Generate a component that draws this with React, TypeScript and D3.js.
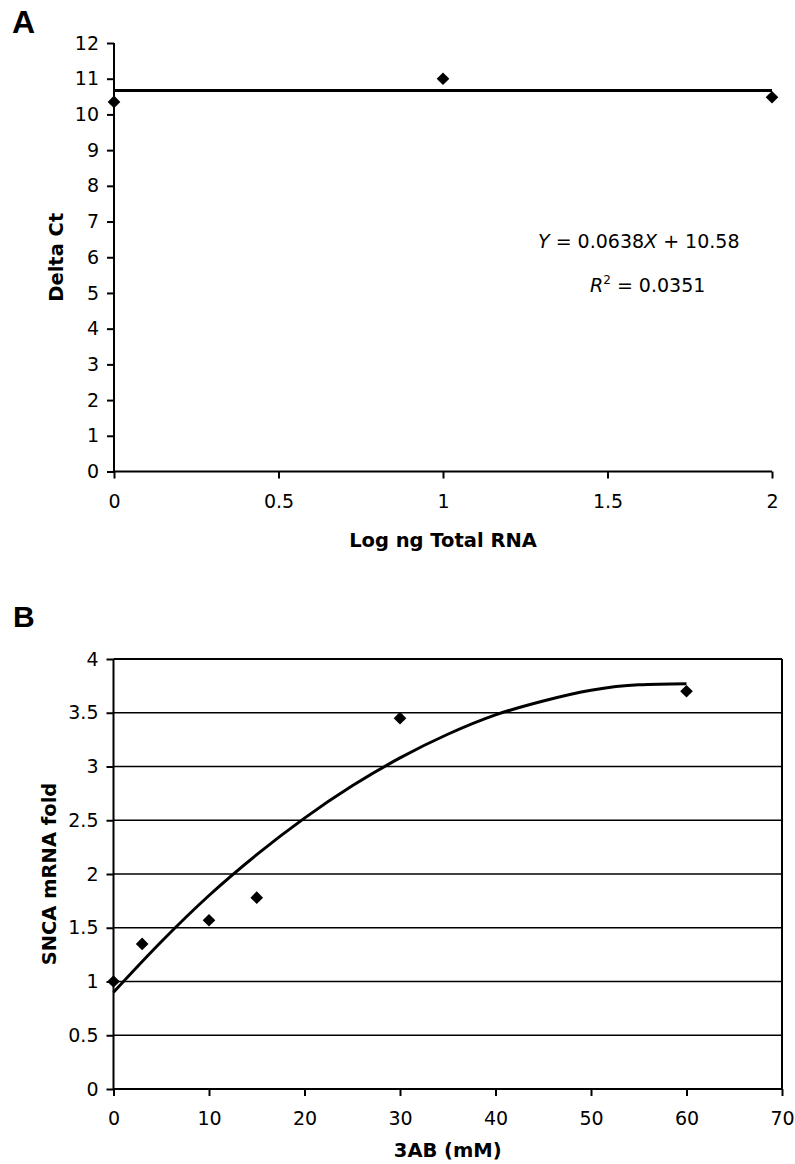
import React, { useRef, useEffect } from 'react';
import * as d3 from 'd3';

// Panel A: standard curve
const rnaLog = [0, 1, 2];
const deltaCt = [10.35, 11.0, 10.48];
const trendA = [[0, 10.67], [2, 10.67]];
const xTicksA = [0, 0.5, 1, 1.5, 2];
const yTicksA = d3.range(0, 13);

// Panel B: 3AB dose response
const doseMM = [0, 3, 10, 15, 30, 60];
const sncaFold = [1.0, 1.35, 1.57, 1.78, 3.45, 3.7];
const trendBx = [0, 5, 10, 15, 20, 25, 30, 35, 40, 45, 50, 55, 60];
const trendBy = [0.9, 1.37, 1.8, 2.18, 2.52, 2.82, 3.08, 3.3, 3.48, 3.61, 3.71, 3.76, 3.77];
const xTicksB = [0, 10, 20, 30, 40, 50, 60, 70];
const yTicksB = [0, 0.5, 1, 1.5, 2, 2.5, 3, 3.5, 4];

const W = 795;
const H = 1164;
const FONT = '"DejaVu Sans", Verdana, sans-serif';

const App = () => {
  const svgRef = useRef<SVGSVGElement>(null);

  useEffect(() => {
    document.body.style.margin = '0';
    const svg = d3.select(svgRef.current);
    svg.selectAll('*').remove();

    const diamond = d3.symbol().type(d3.symbolSquare).size(80);

    const styleAxis = (g) => {
      g.select('.domain').remove();
      g.selectAll('.tick line').attr('stroke', '#000').attr('stroke-width', 2);
      g.selectAll('.tick text').attr('fill', '#000').style('font-family', FONT).style('font-size', '19px');
    };

    // ---------- Panel A ----------
    const xA = d3.scaleLinear().domain([0, 2]).range([114, 772]);
    const yA = d3.scaleLinear().domain([0, 12]).range([471.5, 43]);
    const a = svg.append('g');

    a.append('g')
      .attr('transform', `translate(${xA(0)},0)`)
      .call(d3.axisLeft(yA).tickValues(yTicksA).tickSize(7).tickPadding(8).tickFormat(d3.format('d')))
      .call(styleAxis);
    a.append('g')
      .attr('transform', `translate(0,${yA(0)})`)
      .call(d3.axisBottom(xA).tickValues(xTicksA).tickSize(7).tickPadding(16).tickFormat(d => String(d)))
      .call(styleAxis);

    a.append('line').attr('x1', xA(0)).attr('x2', xA(0)).attr('y1', yA(12)).attr('y2', yA(0))
      .attr('stroke', '#000').attr('stroke-width', 2);
    a.append('line').attr('x1', xA(0)).attr('x2', xA(2)).attr('y1', yA(0)).attr('y2', yA(0))
      .attr('stroke', '#000').attr('stroke-width', 2);

    a.append('path')
      .attr('d', d3.line().x(d => xA(d[0])).y(d => yA(d[1]))(trendA))
      .attr('fill', 'none').attr('stroke', '#000').attr('stroke-width', 3);

    a.selectAll('.pt').data(rnaLog).enter().append('path')
      .attr('d', diamond)
      .attr('transform', (d, i) => `translate(${xA(d)},${yA(deltaCt[i])}) rotate(45)`)
      .attr('fill', '#000');

    const eq1 = a.append('text').attr('x', 538).attr('y', 248)
      .style('font-family', FONT).style('font-size', '19px');
    eq1.append('tspan').style('font-style', 'italic').text('Y');
    eq1.append('tspan').text(' = 0.0638');
    eq1.append('tspan').style('font-style', 'italic').text('X');
    eq1.append('tspan').text(' + 10.58');

    const eq2 = a.append('text').attr('x', 590).attr('y', 292)
      .style('font-family', FONT).style('font-size', '19px');
    eq2.append('tspan').style('font-style', 'italic').text('R');
    eq2.append('tspan').attr('dy', -8).style('font-size', '12px').text('2');
    eq2.append('tspan').attr('dy', 8).text(' = 0.0351');

    a.append('text').attr('transform', `translate(63,${(yA(0) + yA(12)) / 2}) rotate(-90)`)
      .attr('text-anchor', 'middle').style('font-family', FONT).style('font-size', '19.5px')
      .style('font-weight', 'bold').text('Delta Ct');
    a.append('text').attr('x', (xA(0) + xA(2)) / 2).attr('y', 547)
      .attr('text-anchor', 'middle').style('font-family', FONT).style('font-size', '19.5px')
      .style('font-weight', 'bold').text('Log ng Total RNA');
    a.append('text').attr('x', 12).attr('y', 33)
      .style('font-family', '"Liberation Sans", Arial, sans-serif').style('font-size', '32px')
      .style('font-weight', 'bold').text('A');

    // ---------- Panel B ----------
    const xB = d3.scaleLinear().domain([0, 70]).range([113.5, 782]);
    const yB = d3.scaleLinear().domain([0, 4]).range([1089, 659]);
    const b = svg.append('g');

    b.selectAll('.grid').data(yTicksB.filter(v => v > 0)).enter().append('line')
      .attr('x1', xB(0)).attr('x2', xB(70)).attr('y1', d => yB(d)).attr('y2', d => yB(d))
      .attr('stroke', '#000').attr('stroke-width', d => (d === 4 ? 2 : 1.5));
    b.append('line').attr('x1', xB(70)).attr('x2', xB(70)).attr('y1', yB(4)).attr('y2', yB(0))
      .attr('stroke', '#000').attr('stroke-width', 2);

    b.append('g')
      .attr('transform', `translate(${xB(0)},0)`)
      .call(d3.axisLeft(yB).tickValues(yTicksB).tickSize(7).tickPadding(8).tickFormat(d => String(d)))
      .call(styleAxis);
    b.append('g')
      .attr('transform', `translate(0,${yB(0)})`)
      .call(d3.axisBottom(xB).tickValues(xTicksB).tickSize(7).tickPadding(16).tickFormat(d => String(d)))
      .call(styleAxis);

    b.append('line').attr('x1', xB(0)).attr('x2', xB(0)).attr('y1', yB(4)).attr('y2', yB(0))
      .attr('stroke', '#000').attr('stroke-width', 2);
    b.append('line').attr('x1', xB(0)).attr('x2', xB(70)).attr('y1', yB(0)).attr('y2', yB(0))
      .attr('stroke', '#000').attr('stroke-width', 2);

    b.append('path')
      .attr('d', d3.line().curve(d3.curveMonotoneX).x((d, i) => xB(trendBx[i])).y(d => yB(d))(trendBy))
      .attr('fill', 'none').attr('stroke', '#000').attr('stroke-width', 3);

    b.selectAll('.pt').data(doseMM).enter().append('path')
      .attr('d', diamond)
      .attr('transform', (d, i) => `translate(${xB(d)},${yB(sncaFold[i])}) rotate(45)`)
      .attr('fill', '#000');

    b.append('text').attr('transform', `translate(56,${(yB(0) + yB(4)) / 2}) rotate(-90)`)
      .attr('text-anchor', 'middle').style('font-family', FONT).style('font-size', '19.5px')
      .style('font-weight', 'bold').text('SNCA mRNA fold');
    b.append('text').attr('x', (xB(0) + xB(70)) / 2).attr('y', 1157)
      .attr('text-anchor', 'middle').style('font-family', FONT).style('font-size', '19.5px')
      .style('font-weight', 'bold').text('3AB (mM)');
    b.append('text').attr('x', 13).attr('y', 627)
      .style('font-family', '"Liberation Sans", Arial, sans-serif').style('font-size', '30px')
      .style('font-weight', 'bold').text('B');
  }, []);

  return <svg ref={svgRef} width={W} height={H} style={{ display: 'block', background: '#fff' }} />;
};

export default App;
